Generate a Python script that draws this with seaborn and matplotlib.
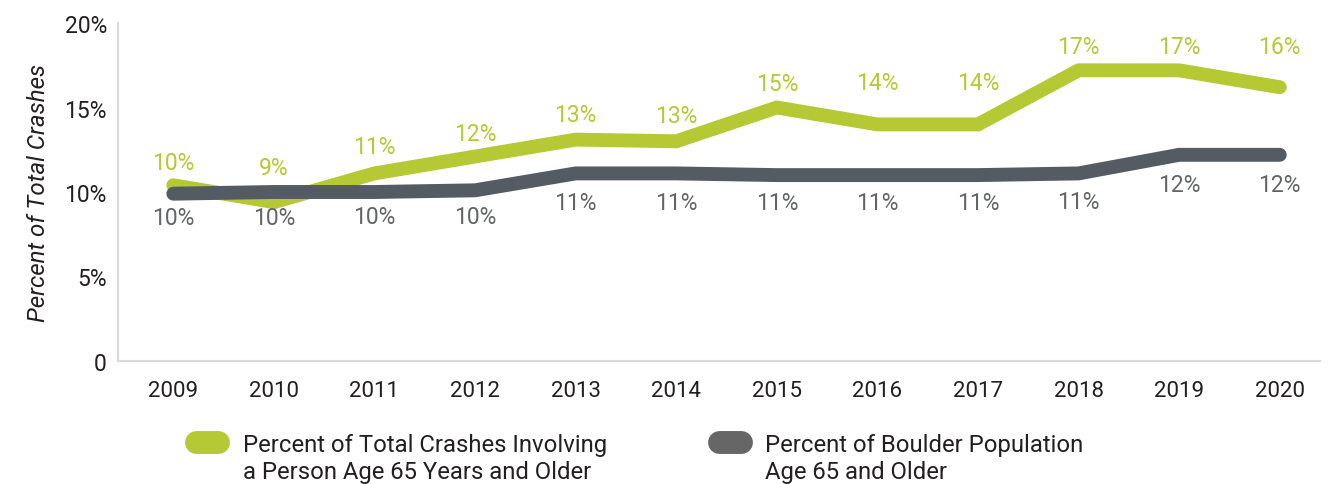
import matplotlib
matplotlib.use("Agg")
import matplotlib.pyplot as plt
import seaborn as sns
import pandas as pd
from matplotlib.lines import Line2D
from matplotlib.legend_handler import HandlerLine2D
from matplotlib.ticker import FixedLocator

# ---- data ----
years = [2009, 2010, 2011, 2012, 2013, 2014, 2015, 2016, 2017, 2018, 2019, 2020]
crash_pct = [10.4, 9.4, 11.1, 12.1, 13.1, 13.0, 15.0, 14.0, 14.0, 17.2, 17.2, 16.2]
pop_pct = [9.9, 10.0, 10.0, 10.1, 11.1, 11.1, 11.0, 11.0, 11.0, 11.1, 12.2, 12.2]
crash_labels = ["10%", "9%", "11%", "12%", "13%", "13%", "15%", "14%", "14%", "17%", "17%", "16%"]
pop_labels = ["10%", "10%", "10%", "10%", "11%", "11%", "11%", "11%", "11%", "11%", "12%", "12%"]
series_names = ["Percent of Total Crashes Involving\na Person Age 65 Years and Older",
                "Percent of Boulder Population\nAge 65 and Older"]
ytick_vals = [0, 5, 10, 15, 20]
ytick_labels = ["0", "5%", "10%", "15%", "20%"]

# label offsets (pixels) for the value labels, as placed in the original
crash_dy_px = [23, 35, 27, 23, 25, 26, 24, 42, 42, 24, 24, 41]
pop_dy_px = [24, 26, 25, 26, 29, 29, 27, 27, 27, 28, 30, 30]

GREEN = "#b5c934"
GRAY_LINE = "#555b63"
GRAY_TEXT = "#626466"
GRAY_SWATCH = "#666666"
TEXT = "#231f20"
SPINE = "#d9d9d9"

sns.set_theme(style="white")
plt.rcParams["font.family"] = ["Roboto", "DejaVu Sans"]

df = pd.DataFrame({
    "year": years * 2,
    "pct": crash_pct + pop_pct,
    "series": [series_names[0]] * len(years) + [series_names[1]] * len(years),
})

fig = plt.figure(figsize=(13.36, 4.85), dpi=100)
ax = fig.add_axes([118 / 1336, 1 - 362 / 485, (1320 - 118) / 1336, (362 - 24) / 485])

sns.lineplot(data=df, x="year", y="pct", hue="series", hue_order=series_names,
             palette=[GREEN, GRAY_LINE], linewidth=10, solid_capstyle="round",
             solid_joinstyle="miter", legend=False, ax=ax)

px2pt = 72 / 100
for x, y, lab, dy in zip(years, crash_pct, crash_labels, crash_dy_px):
    ax.annotate(lab, (x, y), xytext=(0, dy * px2pt), textcoords="offset points",
                ha="center", va="center", color=GREEN, fontsize=16.5)
for x, y, lab, dy in zip(years, pop_pct, pop_labels, pop_dy_px):
    ax.annotate(lab, (x, y), xytext=(0, -dy * px2pt), textcoords="offset points",
                ha="center", va="center", color=GRAY_TEXT, fontsize=16.5)

ax.set_xlim(2008.45, 2020.4)
ax.set_ylim(0, 20)
ax.xaxis.set_major_locator(FixedLocator(years))
ax.set_xticklabels([str(y) for y in years])
ax.yaxis.set_major_locator(FixedLocator(ytick_vals))
ax.set_yticklabels(ytick_labels)
ax.tick_params(axis="x", length=0, pad=14, labelsize=16, labelcolor=TEXT)
ax.tick_params(axis="y", length=0, pad=8, labelsize=16.5, labelcolor=TEXT)
ax.set_xlabel("")
ax.set_ylabel("Percent of Total Crashes", fontsize=17.4, fontstyle="italic", color=TEXT)
ax.yaxis.set_label_coords((50 - 118) / 1202, 0.5)

for s in ["top", "right"]:
    ax.spines[s].set_visible(False)
for s in ["left", "bottom"]:
    ax.spines[s].set_color(SPINE)
    ax.spines[s].set_linewidth(1.5)
ax.grid(False)


class RaisedHandler(HandlerLine2D):
    """Line handle aligned with the first line of a two-line label."""
    def __init__(self, raise_pt, **kw):
        super().__init__(**kw)
        self.raise_pt = raise_pt

    def create_artists(self, legend, orig_handle, xdescent, ydescent, width,
                       height, fontsize, trans):
        arts = super().create_artists(legend, orig_handle, xdescent, ydescent,
                                      width, height, fontsize, trans)
        for a in arts:
            a.set_ydata([v + self.raise_pt for v in a.get_ydata()])
        return arts


# legend
h1 = Line2D([], [], color=GREEN, lw=16.5, solid_capstyle="round")
h2 = Line2D([], [], color=GRAY_SWATCH, lw=16.5, solid_capstyle="round")
LFS = 17.2
common = dict(loc="upper left", frameon=False, fontsize=LFS, handlelength=22 / (LFS * 100 / 72),
              handletextpad=24.5 / (LFS * 100 / 72), borderpad=0, borderaxespad=0,
              labelcolor=TEXT)
leg1 = fig.legend(handles=[h1], labels=[series_names[0]],
                  handler_map={h1: RaisedHandler(12)},
                  bbox_to_anchor=(196.5 / 1336, 1 - 434 / 485), **common)
leg2 = fig.legend(handles=[h2], labels=[series_names[1]],
                  handler_map={h2: RaisedHandler(12)},
                  bbox_to_anchor=(718.5 / 1336, 1 - 434 / 485), **common)
for leg in (leg1, leg2):
    for t in leg.get_texts():
        t.set_linespacing(1.2)

fig.savefig("out.png", dpi=100)
